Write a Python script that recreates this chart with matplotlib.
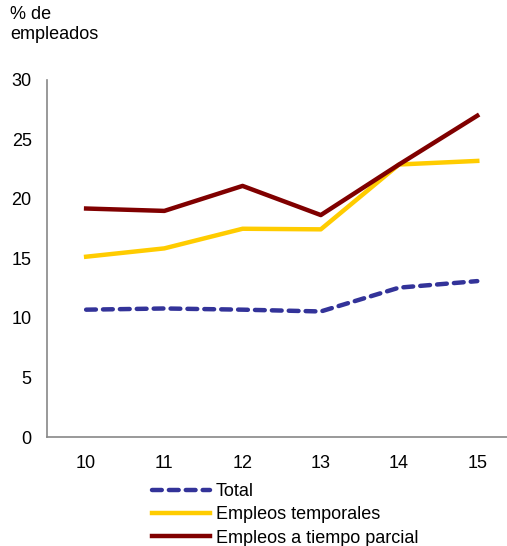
import matplotlib
matplotlib.use("Agg")
import matplotlib.pyplot as plt

plt.rcParams['font.family'] = ['Liberation Sans', 'DejaVu Sans']

years = ["10", "11", "12", "13", "14", "15"]
total = [10.7, 10.8, 10.7, 10.55, 12.55, 13.1]
temporales = [15.15, 15.85, 17.5, 17.45, 22.9, 23.2]
parcial = [19.2, 19.0, 21.1, 18.65, 22.9, 27.0]
yticks = [0, 5, 10, 15, 20, 25, 30]

fig = plt.figure(figsize=(5.07, 5.46), dpi=100)
ax = fig.add_axes([47/507, 109/546, 1 - 47/507, (437-80)/546])
x = list(range(len(years)))
ax.plot(x, total, color='#333399', lw=3.2, ls=(0, (2.2, 1.6)), label='Total', dash_capstyle='round')
ax.plot(x, temporales, color='#FFCC00', lw=3.2, label='Empleos temporales')
ax.plot(x, parcial, color='#800000', lw=3.2, label='Empleos a tiempo parcial')

ax.set_ylim(0, 30)
ax.set_xlim(-0.5, 5.38)
ax.set_yticks(yticks)
ax.set_xticks(x)
ax.set_xticklabels(years)
for s in ['top', 'right']:
    ax.spines[s].set_visible(False)
for s in ['left', 'bottom']:
    ax.spines[s].set_color('#888888')
    ax.spines[s].set_linewidth(1.2)
ax.tick_params(axis='both', length=0, labelsize=13, colors='#000000')
ax.tick_params(axis='y', pad=11)
ax.tick_params(axis='x', pad=13)

fig.text(10/507, 1 - 6/546, "% de\nempleados", ha='left', va='top', fontsize=13, linespacing=1.2)

fig.legend(loc='upper left', bbox_to_anchor=(143/507, 1 - 474/546), frameon=False,
           fontsize=13, handlelength=3.2, handletextpad=0.35, labelspacing=0.35, borderpad=0)

fig.savefig('out.png', dpi=100)
